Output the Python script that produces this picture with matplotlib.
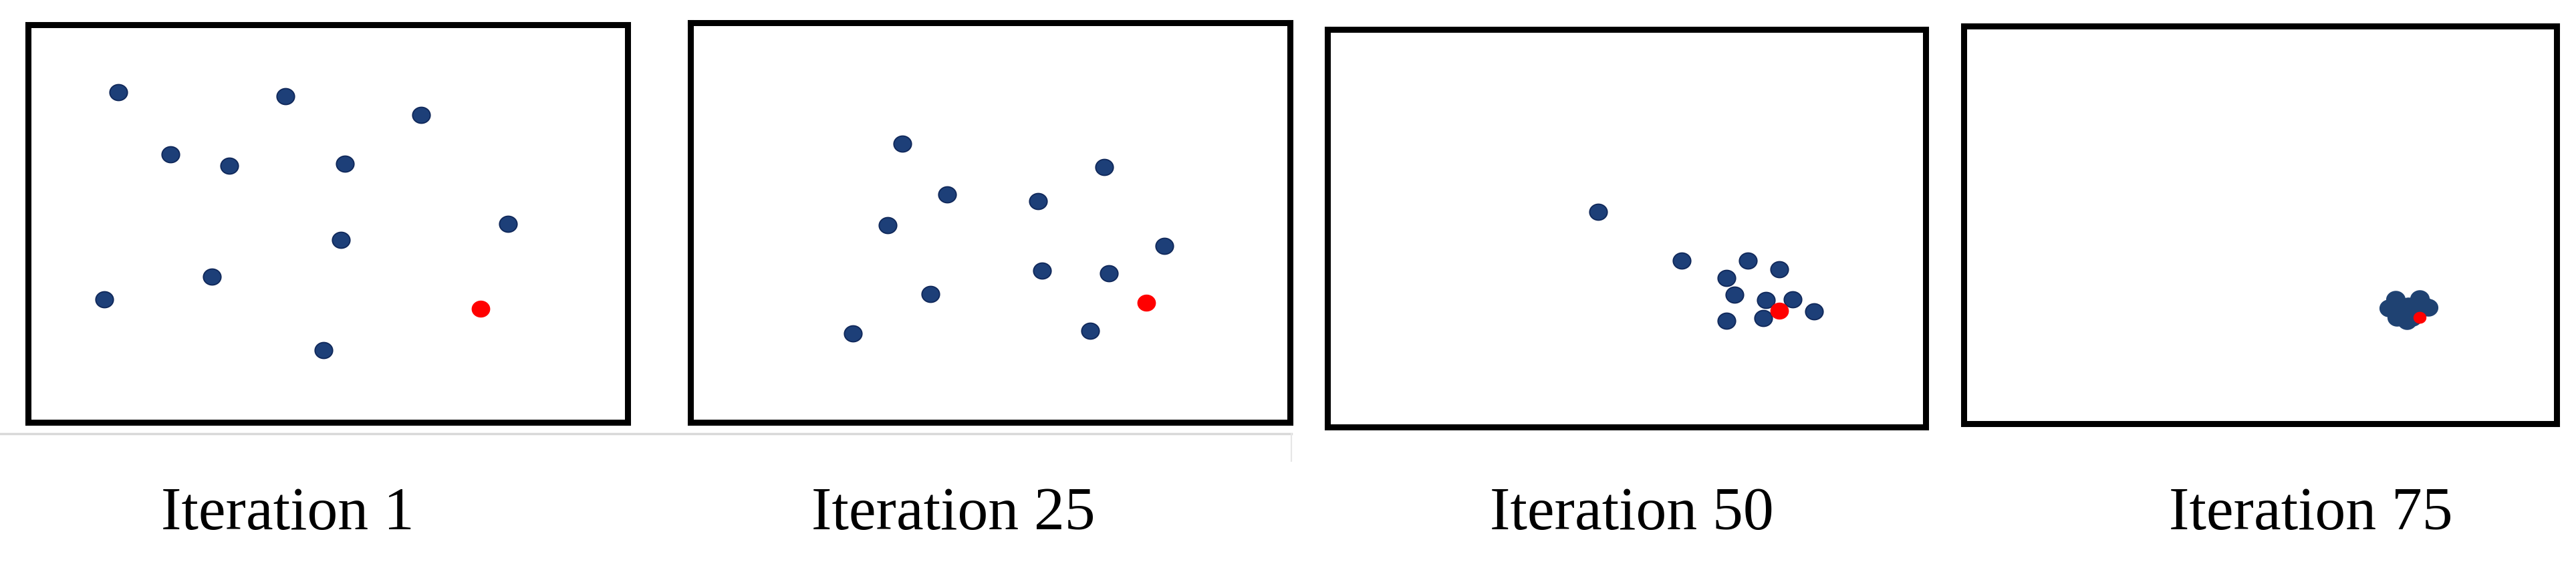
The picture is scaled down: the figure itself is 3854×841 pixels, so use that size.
import matplotlib
matplotlib.use("Agg")
import numpy as np
import matplotlib.pyplot as plt
from matplotlib.lines import Line2D
from matplotlib.path import Path

# ---- data (positions in 0-100 units inside each panel) ----
labels = ["Iteration 1", "Iteration 25", "Iteration 50", "Iteration 75"]

it1_x = [15.0, 42.9, 65.6, 23.7, 33.6, 52.8, 80.1, 52.2, 30.7, 12.7, 49.3]
it1_y = [83.1, 82.0, 77.3, 67.4, 64.5, 65.1, 50.0, 45.9, 36.6, 30.9, 18.1]
it1_red = (75.5, 28.5)

it25_x = [35.3, 69.0, 42.8, 58.0, 32.9, 79.0, 58.6, 69.8, 40.0, 27.1, 66.7]
it25_y = [69.8, 63.9, 57.0, 55.3, 49.4, 44.2, 37.9, 37.3, 32.1, 22.2, 22.9]
it25_red = (76.0, 29.9)

it50_x = [45.2, 59.2, 70.3, 75.5, 66.7, 68.0, 73.3, 77.8, 81.3, 66.7, 72.8]
it50_y = [54.1, 41.9, 41.9, 39.6, 37.4, 33.3, 31.9, 32.1, 29.1, 26.7, 27.4]
it50_red = (75.5, 29.2)

it75_x = [72.8, 76.9, 71.7, 78.3, 73.0, 74.7, 75.0, 76.8, 74.0, 75.6, 77.5]
it75_y = [31.2, 31.5, 29.0, 29.3, 26.8, 25.8, 29.5, 28.6, 28.8, 26.8, 30.0]
it75_red = (76.9, 26.8)

panels = [
    (it1_x, it1_y, it1_red),
    (it25_x, it25_y, it25_red),
    (it50_x, it50_y, it50_red),
    (it75_x, it75_y, it75_red),
]

# slightly wide elliptical dot marker
_t = np.linspace(0, 2 * np.pi, 60)
ell = Path(np.column_stack([1.1 * np.cos(_t), np.sin(_t)]), closed=True)

# ---- layout ----
W, H = 3855, 841
fig = plt.figure(figsize=(W / 100, H / 100), dpi=100)
fig.patch.set_facecolor("white")

boxes = [  # left, top, right, bottom in pixels
    (42, 37, 939, 632),
    (1033, 34, 1930, 632),
    (1986, 44, 2881, 639),
    (2938, 39, 3825, 634),
]
label_cx = [430, 1426, 2441, 3457]
label_base = 792

navy = "#1d3f78"
navy_edge = "#10285a"

for i, ((xs, ys, red), (l, t, r, b)) in enumerate(zip(panels, boxes)):
    ax = fig.add_axes([l / W, 1 - b / H, (r - l) / W, (b - t) / H])
    ax.set_xlim(0, 100)
    ax.set_ylim(0, 100)
    ax.set_xticks([])
    ax.set_yticks([])
    for sp in ax.spines.values():
        sp.set_linewidth(6.5)
        sp.set_color("black")
    if i < 3:
        ax.plot(xs, ys, linestyle="none", marker=ell, ms=19, color=navy,
                mec=navy_edge, mew=1.3, zorder=3)
        ax.plot([red[0]], [red[1]], linestyle="none", marker=ell, ms=19,
                color="#ff0000", mec="#ff0000", zorder=4)
    else:
        ax.plot(xs, ys, linestyle="none", marker=ell, ms=21, color="#1f4272",
                mec="#1f4272", mew=0, zorder=3)
        ax.plot([red[0]], [red[1]], linestyle="none", marker=ell, ms=13,
                color="#ff0000", mec="#ff0000", zorder=4)
    fig.text(label_cx[i] / W, 1 - label_base / H, labels[i], ha="center",
             va="baseline", fontsize=66, family="Liberation Serif", color="black")

# faint separator line under the first two panels
fig.add_artist(Line2D([0, 1932 / W], [1 - 649 / H, 1 - 649 / H],
                      color="#d9d9d9", lw=2.5, transform=fig.transFigure))
fig.add_artist(Line2D([1932 / W, 1932 / W], [1 - 649 / H, 1 - 690 / H],
                      color="#e6e6e6", lw=1.5, transform=fig.transFigure))

fig.savefig("out.png", dpi=100, facecolor="white")
